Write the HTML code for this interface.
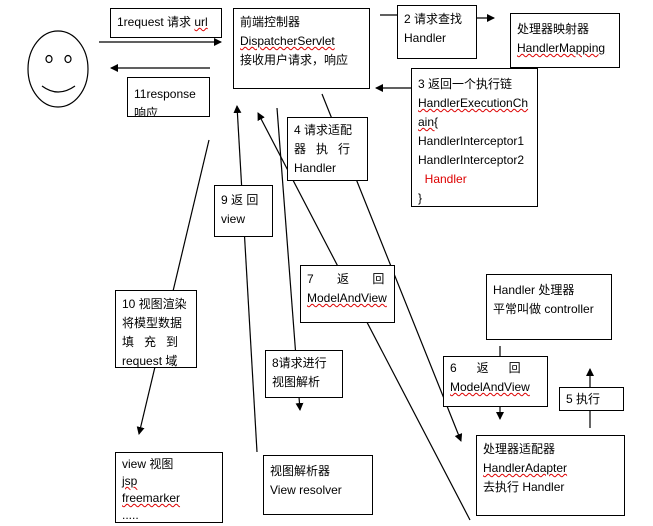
<!DOCTYPE html>
<html><head><meta charset="utf-8"><style>
body{margin:0;width:653px;height:526px;background:#fff;position:relative;overflow:hidden;font-family:"Liberation Sans","Noto Sans CJK SC",sans-serif;font-size:12px;color:#000}
.b{position:absolute;border:1px solid #000;background:#fff;box-sizing:border-box;padding:4px 6px;line-height:19px;overflow:hidden}
.w{text-decoration:underline wavy #d00;text-decoration-thickness:1px}
svg{position:absolute;left:0;top:0}
</style></head><body>
<svg width="653" height="526">
<defs><marker id="a" markerWidth="8" markerHeight="8" refX="7" refY="4" orient="auto" markerUnits="userSpaceOnUse"><path d="M0,0L8,4L0,8z" fill="#000"/></marker></defs>
<g stroke="#000" stroke-width="1.2" fill="none">
<ellipse cx="58" cy="69" rx="30" ry="38"/>
<ellipse cx="49" cy="59" rx="3" ry="3.5"/><ellipse cx="68" cy="59" rx="3" ry="3.5"/>
<path d="M42,86 Q58,98 75,86"/>
<line x1="99" y1="42" x2="221" y2="42" marker-end="url(#a)"/>
<line x1="210" y1="68" x2="111" y2="68" marker-end="url(#a)"/>
<line x1="380" y1="15" x2="397" y2="15"/>
<line x1="477" y1="18" x2="494" y2="18" marker-end="url(#a)"/>
<line x1="411" y1="88" x2="376" y2="88" marker-end="url(#a)"/>
<line x1="209" y1="140" x2="139" y2="434" marker-end="url(#a)"/>
<line x1="257" y1="452" x2="237" y2="106" marker-end="url(#a)"/>
<line x1="277" y1="108" x2="300" y2="410" marker-end="url(#a)"/>
<line x1="470" y1="520" x2="258" y2="113" marker-end="url(#a)"/>
<line x1="322" y1="94" x2="461" y2="441" marker-end="url(#a)"/>
<line x1="500" y1="346" x2="500" y2="356"/>
<line x1="500" y1="407" x2="500" y2="419" marker-end="url(#a)"/>
<line x1="590" y1="428" x2="590" y2="369" marker-end="url(#a)"/>
</g></svg>
<div class="b" style="left:110px;top:8px;width:112px;height:30px">1request 请求 <span class="w">url</span></div>
<div class="b" style="left:127px;top:77px;width:83px;height:40px;padding-top:7px">11response<br>响应</div>
<div class="b" style="left:233px;top:8px;width:137px;height:81px">前端控制器<br><span class="w">DispatcherServlet</span><br>接收用户请求，响应</div>
<div class="b" style="left:397px;top:5px;width:80px;height:54px">2 请求查找<br>Handler</div>
<div class="b" style="left:510px;top:13px;width:110px;height:55px;padding-top:6px">处理器映射器<br><span class="w">HandlerMapping</span></div>
<div class="b" style="left:411px;top:68px;width:127px;height:139px;padding-top:6px">3 返回一个执行链<br><span class="w">HandlerExecutionCh</span><br><span class="w">ain{</span><br>HandlerInterceptor1<br>HandlerInterceptor2<br>&nbsp;&nbsp;<span style="color:#d00">Handler</span><br>}</div>
<div class="b" style="left:287px;top:117px;width:81px;height:64px;padding-top:3px">4 请求适配<br>器&nbsp;&nbsp;&nbsp;执&nbsp;&nbsp;&nbsp;行<br>Handler</div>
<div class="b" style="left:214px;top:185px;width:59px;height:52px;padding-top:5px">9 返 回<br>view</div>
<div class="b" style="left:300px;top:265px;width:95px;height:58px">7&nbsp;&nbsp;&nbsp;&nbsp;&nbsp;&nbsp;&nbsp;返&nbsp;&nbsp;&nbsp;&nbsp;&nbsp;&nbsp;&nbsp;回<br><span class="w">ModelAndView</span></div>
<div class="b" style="left:115px;top:290px;width:82px;height:78px;line-height:19px">10 视图渲染<br>将模型数据<br>填&nbsp;&nbsp;&nbsp;充&nbsp;&nbsp;&nbsp;到<br>request 域</div>
<div class="b" style="left:265px;top:350px;width:78px;height:48px;padding-top:3px">8请求进行<br>视图解析</div>
<div class="b" style="left:486px;top:274px;width:126px;height:66px;padding-top:6px">Handler 处理器<br>平常叫做 controller</div>
<div class="b" style="left:443px;top:356px;width:105px;height:51px;padding-top:2px">6&nbsp;&nbsp;&nbsp;&nbsp;&nbsp;&nbsp;返&nbsp;&nbsp;&nbsp;&nbsp;&nbsp;&nbsp;回<br><span class="w">ModelAndView</span></div>
<div class="b" style="left:559px;top:387px;width:65px;height:24px;padding-top:2px">5 执行</div>
<div class="b" style="left:476px;top:435px;width:149px;height:81px">处理器适配器<br><span class="w">HandlerAdapter</span><br>去执行 Handler</div>
<div class="b" style="left:115px;top:452px;width:108px;height:71px;line-height:17px;padding-top:3px">view 视图<br><span class="w">jsp</span><br><span class="w">freemarker</span><br>.....</div>
<div class="b" style="left:263px;top:455px;width:110px;height:60px;padding-top:6px">视图解析器<br>View resolver</div>
</body></html>
